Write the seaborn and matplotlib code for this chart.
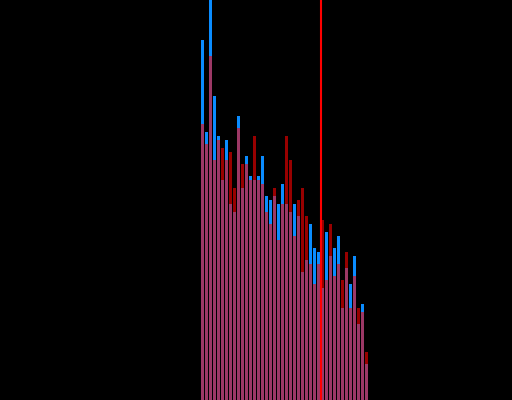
import numpy as np
import pandas as pd
import matplotlib
matplotlib.use("Agg")
import matplotlib.pyplot as plt
import seaborn as sns

# counts per bin (42 bins)
blue_counts = [90, 67, 105, 76, 66, 55, 65, 49, 47, 71, 53, 61, 56, 55, 56, 61, 51, 50, 51, 49, 54,
               49, 47, 49, 46, 32, 35, 44, 38, 37, 28, 42, 36, 38, 41, 23, 33, 29, 36, 19, 24, 9]
red_counts = [69, 64, 86, 60, 65, 63, 60, 62, 53, 68, 59, 59, 55, 66, 55, 54, 47, 44, 53, 40, 49,
              66, 60, 41, 50, 53, 46, 34, 29, 34, 45, 30, 44, 31, 34, 30, 37, 23, 31, 23, 22, 12]
marker_x = 30.0

n_bins = len(blue_counts)
df = pd.DataFrame({
    "bin": np.arange(n_bins) + 0.5,
    "blue": blue_counts,
    "red": red_counts,
})

sns.set_style("dark", {"axes.facecolor": "black", "figure.facecolor": "black"})

fig = plt.figure(figsize=(5.12, 4.0), dpi=100)
fig.patch.set_facecolor("black")
ax = fig.add_axes([0, 0, 1, 1])
ax.set_facecolor("black")

sns.histplot(data=df, x="bin", weights="blue", bins=n_bins, binrange=(0, n_bins),
             shrink=0.75, color="#0a8cff", alpha=1.0, linewidth=0, ax=ax)
sns.histplot(data=df, x="bin", weights="red", bins=n_bins, binrange=(0, n_bins),
             shrink=0.75, color="#ff0000", alpha=0.6, linewidth=0, ax=ax)
ax.axvline(marker_x, color="#ff0000", linewidth=1.5)

ax.set_xlim(-50.125, 77.875)
ax.set_ylim(0, 100)
ax.axis("off")

fig.savefig("out.png", dpi=100, facecolor="black")
